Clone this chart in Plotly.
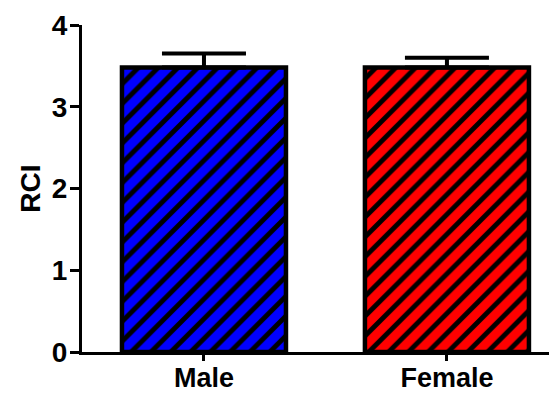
import plotly.graph_objects as go

groups = ["Male", "Female"]
rci_mean = [3.48, 3.48]
rci_err = [0.17, 0.12]
bar_colors = ["#0000ff", "#ff0000"]

fig = go.Figure()
for g, m, e, c in zip(groups, rci_mean, rci_err, bar_colors):
    fig.add_trace(go.Bar(
        x=[g],
        y=[m],
        width=0.675,
        marker=dict(
            color=c,
            line=dict(color="black", width=4.5),
            pattern=dict(shape="/", fillmode="overlay", fgcolor="black",
                         fgopacity=1, size=14, solidity=0.35),
        ),
        error_y=dict(type="data", array=[e], arrayminus=[0], symmetric=False,
                     color="black", thickness=4, width=42),
    ))

# page body has an 8px margin, so the figure is 8px smaller than the window
font = dict(family="Liberation Sans, Arial", size=28, color="black", weight="bold")
xfont = dict(font, size=27)
fig.update_layout(
    width=549, height=386,
    margin=dict(l=74, r=0, t=17, b=42),
    plot_bgcolor="white", paper_bgcolor="white",
    showlegend=False,
    barmode="overlay",
    font=font,
    xaxis=dict(range=[-0.502, 1.453], showline=True, linecolor="black", linewidth=3,
               ticks="outside", ticklen=6, tickwidth=3, tickcolor="black",
               showgrid=False, zeroline=False, tickfont=xfont, automargin=False,
               ticklabelstandoff=-6),
    yaxis=dict(range=[0, 4], tickvals=[0, 1, 2, 3, 4], showline=True, linecolor="black",
               linewidth=3, ticks="outside", ticklen=9, tickwidth=3, tickcolor="black",
               showgrid=False, zeroline=False, tickfont=font, ticklabelstandoff=-3,
               automargin=False, title=dict(text="RCI", font=font, standoff=4)),
)
fig.write_html("out.html")
